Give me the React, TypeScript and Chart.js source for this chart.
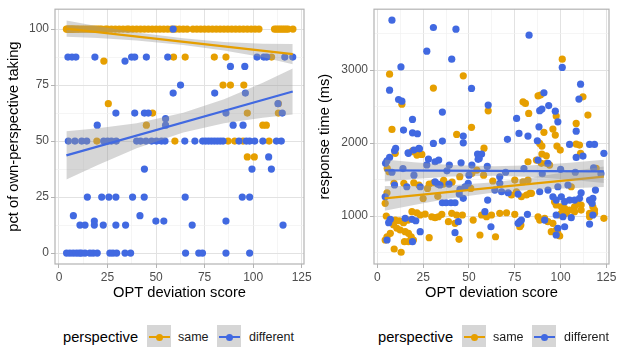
import React, { useEffect, useRef } from "react";
import { Chart, registerables } from "chart.js";
Chart.register(...registerables);

const FONT = "'Liberation Sans', Arial, Helvetica, sans-serif";
const ORANGE = "#E69F00";
const BLUE = "#4169E1";
const RIBBON = "rgba(153,153,153,0.4)";

// ---------- text ----------
const groupLabels = ["same", "different"];
const legendTitle = "perspective";
const xTitle = "OPT deviation score";
const leftYTitle = "pct of own-perspective taking";
const rightYTitle = "response time (ms)";

// ---------- ticks ----------
const xMajorTicks = [0, 25, 50, 75, 100, 125];
const xMinorTicks = [12.5, 37.5, 62.5, 87.5, 112.5];
const leftYMajorTicks = [0, 25, 50, 75, 100];
const leftYMinorTicks = [12.5, 37.5, 62.5, 87.5];
const rightYMajorTicks = [1000, 2000, 3000];
const rightYMinorTicks = [500, 1500, 2500, 3500];

// ---------- left panel data (pct of own-perspective taking) ----------
const leftSameAt100X = [3.8, 4.3, 4.8, 5.3, 5.8, 6.3, 6.8, 7.3, 7.8, 8.5, 9.3, 10, 11, 12, 13, 14, 15, 16, 17, 18, 19, 20, 21, 22, 24, 25, 27, 29, 31, 33, 35, 36, 38, 40, 42, 44, 46, 48, 50, 52, 54, 56, 58, 60, 62, 64, 66, 69, 71, 73, 75, 77, 79, 81, 83, 85, 87, 89, 91, 93, 95, 97, 99, 101, 103, 111, 112, 113, 114, 115, 116, 117, 118, 120.5];
const leftSameOther = [
  [23.1, 85.7], [59, 87.5], [65, 87.5], [80, 87.5], [86, 87.5], [109.5, 87.5],
  [84.5, 75], [88.3, 75], [95.2, 75], [25.4, 66.7], [48.2, 62.5], [97, 62.5], [113, 66.7], [113, 62.5],
  [45, 57.1], [105, 57.1], [106.8, 57.1],
  [19.5, 50], [59.7, 50], [87.1, 50], [90.5, 50], [94.8, 50], [108.2, 50],
  [97, 42.9], [100.6, 42.9],
];
const leftDiffAt50X = [4.8, 8.2, 11.7, 14.3, 23, 25, 27, 29.5, 40, 42, 44.8, 47.7, 50.2, 52.8, 54.6, 64.8, 70, 74, 75.5, 77, 78.5, 80, 81.5, 83, 84.5, 92.7, 96.5, 98.2, 100.8, 105, 112, 114.5];
const leftDiffAt25X = [14.6, 22, 25.7, 29.3, 37.9, 43.9, 65, 94.4, 98.2];
const leftDiffAt12X = [10.8, 13.4, 18.2, 22.8, 29.3, 34.3, 68.6, 115.4];
const leftDiffAt0X = [3.9, 5.6, 7.3, 9, 10.5, 11.6, 13.4, 15.9, 17.6, 19.7, 26.2, 27.8, 29.7, 34, 36.9, 65.2, 72, 73.9, 86, 98.2];
const leftDiffOther = [
  [58.8, 100],
  [4.6, 87.5], [6.7, 87.5], [8.7, 87.5], [18.5, 87.5], [37.4, 87.5], [39, 87.5], [45, 87.5], [56, 87.5], [102, 87.5], [105.5, 87.5], [107, 87.5], [116.3, 87.5], [120.4, 87.5],
  [34, 85.7], [88.3, 83.3], [95.7, 83.3], [62.6, 75], [58.8, 71.4], [80.2, 71.4], [96, 71.4], [112.8, 66.7],
  [29.3, 62.5], [39, 62.5], [44, 62.5], [46, 62.5], [86, 62.5], [115, 62.5],
  [54.9, 60], [19.7, 57.1], [54.9, 57.1], [89.7, 57.1], [94.8, 57.1],
  [108, 42.9], [44, 37.5], [99.4, 37.5], [109.4, 37.5],
  [7.4, 16.7], [41.7, 16.7], [18.2, 14.3], [49.9, 14.3], [54, 14.3], [86, 14.3],
];
// fitted lines and 95% bands
const leftFitX = [3.8, 120.4];
const leftSameFitY = [100.2, 88.8];
const leftDiffFitY = [43.6, 72.1];
const leftBandX = [3.8, 20, 40, 64, 85, 105, 120.4];
const leftSameUpper = [103.8, 101.2, 98.5, 95.9, 94.2, 93.4, 93.3];
const leftSameLower = [96.6, 96.0, 94.9, 92.9, 90.4, 87.4, 84.3];
const leftDiffUpper = [54.4, 55.7, 58.0, 62.6, 68.7, 76.0, 82.4];
const leftDiffLower = [32.8, 39.3, 46.8, 53.8, 57.9, 60.4, 61.8];

// ---------- right panel data (response time, ms) ----------
const rightSame = [
  [6.7, 2945], [46.9, 2922], [30.6, 2754], [13.4, 2534], [60.5, 2443], [8, 2188], [51.4, 2216], [43.3, 2119],
  [19.2, 1895], [23, 1849], [21.6, 1835], [24.3, 1845], [9.8, 1859], [58.2, 1930], [79.5, 2566], [80.8, 2544],
  [82.6, 2407], [87.7, 2648], [89, 2658], [90.9, 2147], [88.6, 1996], [89.8, 1959], [95.8, 2192], [97.1, 2110],
  [97.6, 2370], [98, 1959], [99.8, 1904], [100.9, 3151], [89.8, 1849], [92.2, 1826], [82.2, 1744], [112.2, 2634],
  [114.9, 2384], [108.5, 2270], [108.5, 1986], [110.3, 1973], [110.9, 1859],
  [86.8, 1767], [89.5, 1722], [92.2, 1722], [94, 1699], [19.9, 1881], [5.4, 1653], [6.4, 1607], [119.4, 1653],
  [9.1, 1448], [14.5, 1448], [19.9, 1456], [22.7, 1425], [27.4, 1379], [28.3, 1438], [30.6, 1456], [36, 1438],
  [51, 1379], [51.6, 1585], [54.3, 1630], [105.8, 1401], [75, 1493], [79.5, 1470], [82.2, 1493], [36.2, 1490],
  [40.8, 1465], [45, 1540], [58, 1560], [63, 1480], [25, 1240], [33, 1270],
  [5.3, 1319], [4.3, 1174], [73.2, 1288], [78.6, 1264], [81.4, 1288], [84.1, 1311], [75.9, 1333], [83.2, 1311],
  [96.7, 1196], [97.6, 1151], [100.4, 1127], [102.2, 1105], [104.9, 1082], [107.6, 1127], [109.5, 1174], [111.2, 1151],
  [116.7, 1196], [117.6, 1127], [118.5, 1082], [115.8, 1037],
  [4.9, 1000], [9.8, 945], [12, 935], [8.9, 877], [10.7, 832], [12.5, 808], [14.3, 908], [16.7, 945],
  [18.9, 1059], [21.6, 1045], [23.4, 1014], [26.1, 1027], [15.2, 785], [17, 763], [18.5, 716], [19.7, 671],
  [5.3, 716], [7.1, 763], [4.3, 671], [14.8, 648], [17, 648], [9.2, 548], [13, 503], [28.3, 703],
  [31.5, 977], [33.3, 990], [29.7, 990], [35.2, 1023], [40.6, 1037], [43.3, 1014], [38.8, 922], [42.4, 900],
  [44.6, 681], [46.4, 1014], [52.3, 945], [56, 740], [56.9, 1014], [59.6, 990], [62.3, 1014], [66.8, 1037],
  [64.5, 716], [70.5, 1045], [75, 1023], [78.3, 877], [77.7, 853], [87.7, 990], [88.6, 945], [91.3, 968],
  [93.1, 922], [95.8, 900], [94.9, 785], [97.6, 808], [99.5, 726], [98.5, 763], [99.5, 1014], [100.4, 1037],
  [103.1, 1037], [107.6, 1059], [111.2, 1082], [115.8, 990], [118.5, 1037], [123.6, 968],
];
const rightDiff = [
  [8, 3685], [30.6, 3585], [42.9, 3562], [27, 3260], [40.6, 3151], [82.8, 3480], [12.9, 3045], [6.7, 2726],
  [51.4, 2750], [11.6, 2598], [13.4, 2575], [35.5, 2425], [60.5, 2521], [19.2, 2325], [14.3, 2178], [19.2, 2141],
  [21.9, 2128], [46.9, 2096], [46.9, 2004], [35.5, 2027], [30.6, 1996], [23, 1922], [9.4, 1895], [17, 1859],
  [6.7, 1804], [5.3, 1758], [27.9, 1781], [31.5, 1744], [39.3, 1699], [45.7, 1730], [54.7, 1849], [56.9, 1849],
  [55, 1777], [71, 2051], [76, 2338], [77.3, 2133], [82.2, 2096], [90.9, 2689], [88.6, 2445], [89.8, 2466],
  [93.5, 2514], [88.2, 2223], [87.3, 2032], [97.1, 2438], [98.5, 2292], [104.9, 1982], [100.9, 3037], [87.7, 1767],
  [93.1, 1722], [110.9, 2808], [110, 2603], [108.5, 2164], [115.8, 1982], [118.5, 1982], [112.2, 1822], [108.5, 1804],
  [123.6, 1859], [10, 1927], [16.8, 1867], [19.9, 1904], [22.7, 1927], [4.5, 1722], [33.5, 1767], [51.6, 1699],
  [55.6, 1790],
  [8, 1600], [14, 1650], [20, 1560], [27, 1700], [38, 1620], [50, 1560], [60, 1680], [70, 1600],
  [80, 1650], [90, 1580], [100, 1640], [108, 1600], [118, 1660], [122, 1580],
  [4.3, 1264], [9.4, 1425], [16.1, 1401], [23.4, 1401], [31.5, 1470], [33, 1438], [34.2, 1425], [39.1, 1438],
  [49.6, 1448], [47.8, 1401], [45.1, 1365], [44.7, 1301], [46.9, 1242], [35.5, 1182], [37.5, 1182], [40.2, 1182],
  [42.4, 1182], [60.2, 1219], [64.1, 1356], [67.8, 1333], [71.4, 1319], [76.8, 1301], [66.8, 1538], [66.8, 1448],
  [88.6, 1333], [93.1, 1356], [95.8, 1264], [97.6, 1219], [100.4, 1264], [102.2, 1196], [104.9, 1219], [107.6, 1219],
  [110.3, 1242], [115.8, 1219], [117.6, 1242], [117.2, 1174], [104, 1425], [98.5, 1401], [111.2, 1319], [119, 1356],
  [7.1, 955], [6.2, 908], [15.2, 968], [18.9, 955], [21, 935], [23.4, 785], [5.3, 671], [19.2, 648],
  [44.2, 922], [42.4, 771], [58.7, 1059], [62, 853], [76.8, 900], [78.6, 945], [81.9, 1023], [97.6, 740],
  [98.5, 832], [101.3, 990], [105.8, 977], [115.8, 890], [117.6, 1014], [91.3, 945], [97.6, 1014], [102.2, 853],
  [77.7, 922],
];
const rightFitX = [4, 123.6];
const rightSameFitY = [1242, 1540];
const rightDiffFitY = [1625, 1612];
const rightBandX = [4, 20, 40, 64, 85, 105, 123.6];
const rightSameUpper = [1412, 1412, 1422, 1463, 1530, 1611, 1678];
const rightSameLower = [1072, 1152, 1242, 1323, 1360, 1381, 1398];
const rightDiffUpper = [1775, 1738, 1701, 1683, 1696, 1729, 1772];
const rightDiffLower = [1475, 1508, 1541, 1553, 1536, 1499, 1452];

// ---------- helpers ----------
const pairs = (pts) => pts.map(([x, y]) => ({ x, y }));
const row = (xs, y) => xs.map((x) => ({ x, y }));
const zip = (xs, ys) => xs.map((x, i) => ({ x, y: ys[i] }));

const panelBorder = {
  id: "panelBorder",
  afterDraw(chart) {
    const { ctx, chartArea: a } = chart;
    ctx.save();
    ctx.strokeStyle = "#b3b3b3";
    ctx.lineWidth = 1.2;
    ctx.strokeRect(a.left, a.top, a.right - a.left, a.bottom - a.top);
    ctx.restore();
  },
};

function axis(opts) {
  const { majors, minors, min, max, title, isX, size, titlePad } = opts;
  const all = [...majors, ...minors].sort((a, b) => a - b);
  const isMajor = (v) => majors.includes(v);
  return {
    type: "linear",
    min,
    max,
    bounds: "data",
    afterBuildTicks: (s) => {
      s.ticks = all.map((v) => ({ value: v }));
    },
    afterFit: (s) => {
      if (isX) s.height = size;
      else s.width = size;
    },
    border: { display: false },
    grid: {
      color: (c) => (c.tick && isMajor(c.tick.value) ? "#e2e2e2" : "#f1f1f1"),
      lineWidth: (c) => (c.tick && isMajor(c.tick.value) ? 1 : 0.7),
      tickColor: (c) => (c.tick && isMajor(c.tick.value) ? "#b3b3b3" : "rgba(0,0,0,0)"),
      tickLength: 4,
      tickWidth: 1,
      drawTicks: true,
    },
    ticks: {
      callback: (v) => (isMajor(v) ? String(v) : ""),
      autoSkip: false,
      maxRotation: 0,
      minRotation: 0,
      padding: 2,
      color: "#4d4d4d",
      font: { family: FONT, size: 12 },
    },
    title: {
      display: true,
      text: title,
      color: "#000000",
      font: { family: FONT, size: 14.7 },
      padding: titlePad,
    },
  };
}

function buildConfig(p) {
  const band = (x, up, lo, order) => [
    { data: zip(x, up), borderColor: "rgba(0,0,0,0)", borderWidth: 0, pointRadius: 0, fill: false, order },
    { data: zip(x, lo), borderColor: "rgba(0,0,0,0)", borderWidth: 0, pointRadius: 0, fill: "-1", backgroundColor: RIBBON, order },
  ];
  const points = (data, color, order) => ({
    data,
    showLine: false,
    pointRadius: 3.6,
    pointBorderWidth: 0,
    pointBackgroundColor: color,
    pointBorderColor: color,
    order,
  });
  const fit = (x, y, color, order) => ({
    data: zip(x, y),
    borderColor: color,
    borderWidth: 2.2,
    pointRadius: 0,
    fill: false,
    order,
  });
  return {
    type: "line",
    data: {
      datasets: [
        points(p.same, ORANGE, 10),
        points(p.diff, BLUE, 9),
        ...band(p.bandX, p.sameUp, p.sameLo, 8),
        fit(p.fitX, p.sameFit, ORANGE, 7),
        ...band(p.bandX, p.diffUp, p.diffLo, 6),
        fit(p.fitX, p.diffFit, BLUE, 5),
      ],
    },
    options: {
      responsive: false,
      animation: false,
      events: [],
      devicePixelRatio: 1,
      layout: { padding: p.padding },
      plugins: { legend: { display: false }, tooltip: { enabled: false } },
      scales: {
        x: axis({ majors: xMajorTicks, minors: xMinorTicks, min: p.xMin, max: p.xMax, title: xTitle, isX: true, size: p.xAxisH, titlePad: { top: 0, bottom: 8 } }),
        y: axis({ majors: p.yMajors, minors: p.yMinors, min: p.yMin, max: p.yMax, title: p.yTitle, isX: false, size: p.yAxisW, titlePad: { top: p.yTitlePad, bottom: 0 } }),
      },
    },
    plugins: [panelBorder],
  };
}

const leftPanel = {
  same: [...row(leftSameAt100X, 100), ...pairs(leftSameOther)],
  diff: [...pairs(leftDiffOther), ...row(leftDiffAt50X, 50), ...row(leftDiffAt25X, 25), ...row(leftDiffAt12X, 12.5), ...row(leftDiffAt0X, 0)],
  fitX: leftFitX, sameFit: leftSameFitY, diffFit: leftDiffFitY,
  bandX: leftBandX, sameUp: leftSameUpper, sameLo: leftSameLower, diffUp: leftDiffUpper, diffLo: leftDiffLower,
  xMin: -2.06, xMax: 126.2, yMin: -4.87, yMax: 108.85,
  yMajors: leftYMajorTicks, yMinors: leftYMinorTicks, yTitle: leftYTitle,
  padding: { left: 0, right: 16, top: 7, bottom: 0 },
  xAxisH: 46, yAxisW: 55, yTitlePad: 5,
};

const rightPanel = {
  same: pairs(rightSame),
  diff: pairs(rightDiff),
  fitX: rightFitX, sameFit: rightSameFitY, diffFit: rightDiffFitY,
  bandX: rightBandX, sameUp: rightSameUpper, sameLo: rightSameLower, diffUp: rightDiffUpper, diffLo: rightDiffLower,
  xMin: -1.8, xMax: 126.4, yMin: 342, yMax: 3836,
  yMajors: rightYMajorTicks, yMinors: rightYMinorTicks, yTitle: rightYTitle,
  padding: { left: 0, right: 20, top: 9, bottom: 0 },
  xAxisH: 46, yAxisW: 65, yTitlePad: 7,
};

function LegendKey({ color, left }) {
  return (
    <div style={{ position: "absolute", left, top: 325, width: 24, height: 24, background: "#d6d6d6" }}>
      <div style={{ position: "absolute", left: 1.5, right: 1.5, top: 11, height: 2, background: color }} />
      <div style={{ position: "absolute", left: 8.5, top: 8.5, width: 7, height: 7, borderRadius: "50%", background: color }} />
    </div>
  );
}

function Legend({ offset }) {
  const text = { position: "absolute", fontFamily: FONT, color: "#000", whiteSpace: "nowrap" } as any;
  return (
    <>
      <div style={{ ...text, left: offset + 63, top: 328, fontSize: 14.7, lineHeight: "18px" }}>{legendTitle}</div>
      <LegendKey color={ORANGE} left={offset + 147} />
      <div style={{ ...text, left: offset + 178, top: 329, fontSize: 12.5, lineHeight: "16px", color: "#1a1a1a" }}>{groupLabels[0]}</div>
      <LegendKey color={BLUE} left={offset + 217} />
      <div style={{ ...text, left: offset + 249, top: 329, fontSize: 12.5, lineHeight: "16px", color: "#1a1a1a" }}>{groupLabels[1]}</div>
    </>
  );
}

export default function App() {
  const leftRef = useRef(null);
  const rightRef = useRef(null);
  useEffect(() => {
    const c1 = new Chart(leftRef.current, buildConfig(leftPanel) as any);
    const c2 = new Chart(rightRef.current, buildConfig(rightPanel) as any);
    return () => {
      c1.destroy();
      c2.destroy();
    };
  }, []);
  return (
    <div style={{ position: "absolute", left: 0, top: 0, width: 618, height: 347, overflow: "hidden", background: "#fff" }}>
      <canvas ref={leftRef} width={320} height={310} style={{ position: "absolute", left: 0, top: 0, width: 320, height: 310 }} />
      <canvas ref={rightRef} width={320} height={310} style={{ position: "absolute", left: 309, top: 0, width: 320, height: 310 }} />
      <Legend offset={0} />
      <Legend offset={315} />
    </div>
  );
}
